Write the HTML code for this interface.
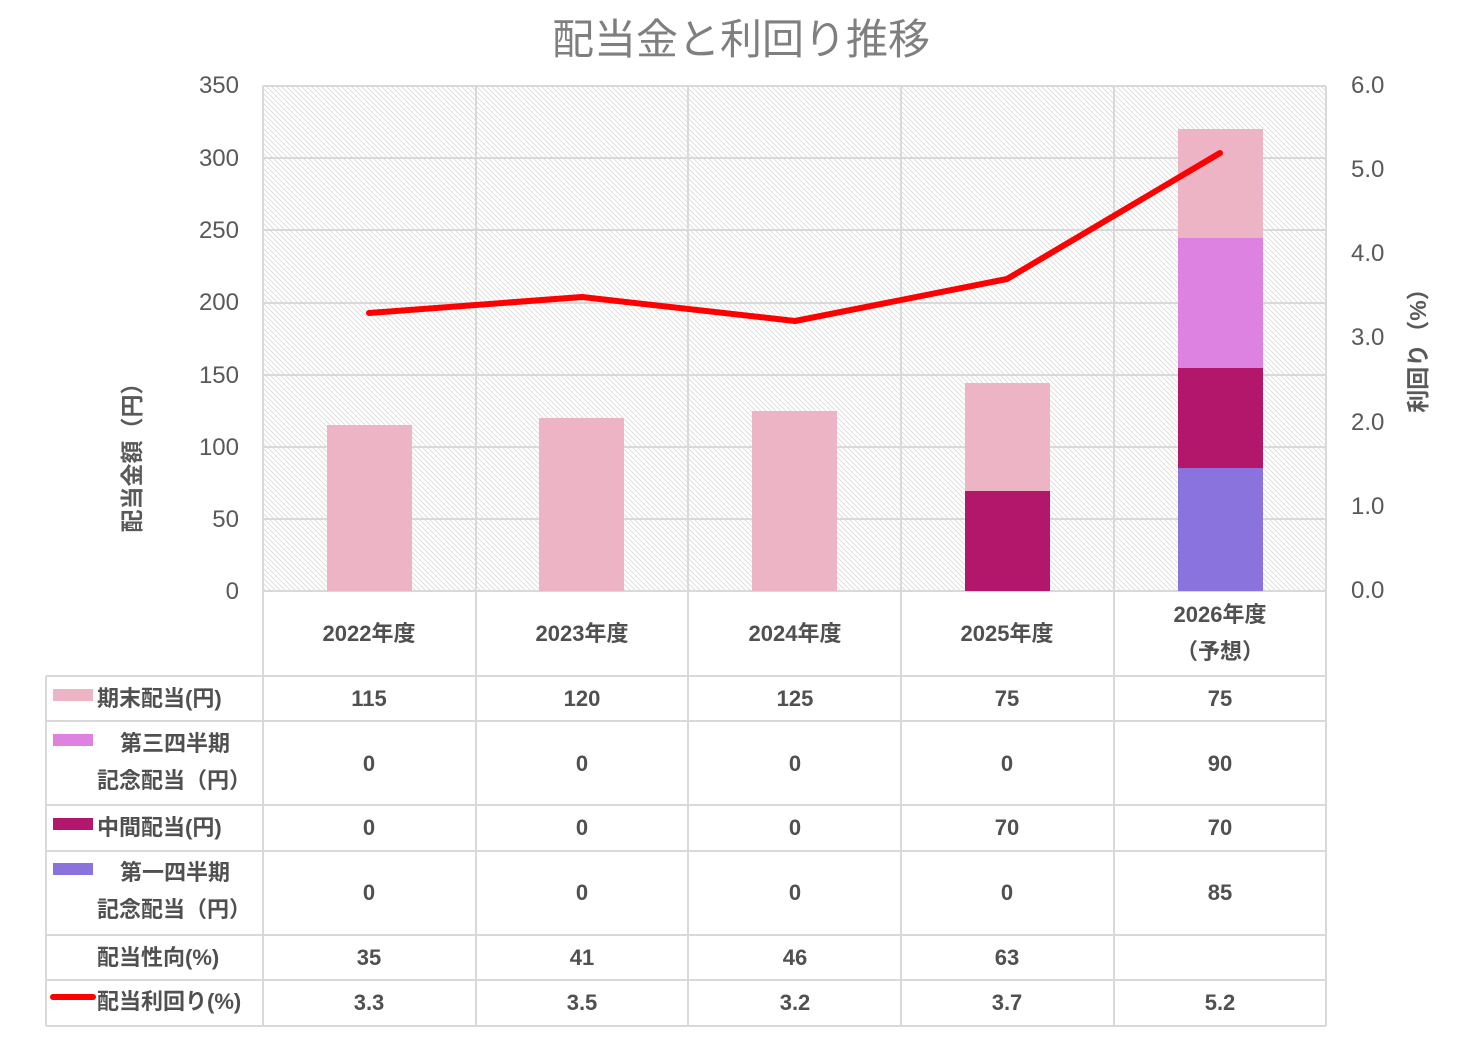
<!DOCTYPE html>
<html><head><meta charset="utf-8"><style>
html,body{margin:0;padding:0;background:#fff;}
svg{display:block;font-family:"Liberation Sans","Noto Sans CJK JP",sans-serif;}
.ax{fill:#595959;font-size:24px;}
.tb{fill:#505050;font-size:22px;font-weight:bold;}
</style></head><body>
<svg width="1476" height="1040" viewBox="0 0 1476 1040" xmlns="http://www.w3.org/2000/svg">
<defs>
<pattern id="h" width="5" height="5" patternUnits="userSpaceOnUse">
<rect width="5" height="5" fill="#fff"/>
<path d="M-1,-1 L6,6 M-1,4 L1,6 M4,-1 L6,1" stroke="#dadada" stroke-width="0.8"/>
</pattern>
</defs>
<text x="741" y="54" text-anchor="middle" fill="#7f7f7f" font-size="42">配当金と利回り推移</text>
<rect x="263" y="86" width="1063" height="505" fill="url(#h)"/>
<g stroke="#d9d9d9" stroke-width="2">
<line x1="263" y1="86" x2="1326" y2="86"/>
<line x1="263" y1="158" x2="1326" y2="158"/>
<line x1="263" y1="230" x2="1326" y2="230"/>
<line x1="263" y1="303" x2="1326" y2="303"/>
<line x1="263" y1="375" x2="1326" y2="375"/>
<line x1="263" y1="447" x2="1326" y2="447"/>
<line x1="263" y1="519" x2="1326" y2="519"/>
<line x1="263" y1="86" x2="263" y2="1026"/>
<line x1="476" y1="86" x2="476" y2="1026"/>
<line x1="688" y1="86" x2="688" y2="1026"/>
<line x1="901" y1="86" x2="901" y2="1026"/>
<line x1="1114" y1="86" x2="1114" y2="1026"/>
<line x1="1326" y1="86" x2="1326" y2="1026"/>
<line x1="263" y1="591" x2="1326" y2="591"/>
<line x1="46" y1="676" x2="1326" y2="676"/>
<line x1="46" y1="721" x2="1326" y2="721"/>
<line x1="46" y1="805" x2="1326" y2="805"/>
<line x1="46" y1="851" x2="1326" y2="851"/>
<line x1="46" y1="935" x2="1326" y2="935"/>
<line x1="46" y1="980" x2="1326" y2="980"/>
<line x1="46" y1="1026" x2="1326" y2="1026"/>
<line x1="46" y1="676" x2="46" y2="1026"/>
</g>
<rect x="327" y="425" width="85" height="166" fill="#ECB4C4"/>
<rect x="539" y="418" width="85" height="173" fill="#ECB4C4"/>
<rect x="752" y="411" width="85" height="180" fill="#ECB4C4"/>
<rect x="965" y="491" width="85" height="100" fill="#B3176B"/>
<rect x="965" y="383" width="85" height="108" fill="#ECB4C4"/>
<rect x="1178" y="468" width="85" height="123" fill="#8B73DD"/>
<rect x="1178" y="368" width="85" height="100" fill="#B3176B"/>
<rect x="1178" y="238" width="85" height="130" fill="#DD82E0"/>
<rect x="1178" y="129" width="85" height="109" fill="#ECB4C4"/>
<polyline points="369,313 582,297 795,321 1007,279 1220,153" fill="none" stroke="#FF0000" stroke-width="6" stroke-linecap="round" stroke-linejoin="round"/>
<g class="ax" text-anchor="end">
<text x="239" y="93">350</text><text x="239" y="166">300</text><text x="239" y="238">250</text>
<text x="239" y="310">200</text><text x="239" y="383">150</text><text x="239" y="455">100</text>
<text x="239" y="527">50</text><text x="239" y="599">0</text>
</g>
<g class="ax" text-anchor="start">
<text x="1351" y="93">6.0</text><text x="1351" y="177">5.0</text><text x="1351" y="261">4.0</text>
<text x="1351" y="345">3.0</text><text x="1351" y="430">2.0</text><text x="1351" y="514">1.0</text>
<text x="1351" y="598">0.0</text>
</g>
<text transform="translate(140,452) rotate(-90)" text-anchor="middle" fill="#595959" font-size="23" font-weight="bold">配当金額（円）</text>
<text transform="translate(1426,345) rotate(-90)" text-anchor="middle" fill="#595959" font-size="23" font-weight="bold">利回り（%）</text>
<g class="tb" text-anchor="middle">
<text x="369" y="641">2022年度</text><text x="582" y="641">2023年度</text><text x="795" y="641">2024年度</text>
<text x="1007" y="641">2025年度</text><text x="1220" y="622">2026年度</text><text x="1220" y="659">（予想）</text>
<text x="369" y="706">115</text><text x="582" y="706">120</text><text x="795" y="706">125</text><text x="1007" y="706">75</text><text x="1220" y="706">75</text>
<text x="369" y="771">0</text><text x="582" y="771">0</text><text x="795" y="771">0</text><text x="1007" y="771">0</text><text x="1220" y="771">90</text>
<text x="369" y="835">0</text><text x="582" y="835">0</text><text x="795" y="835">0</text><text x="1007" y="835">70</text><text x="1220" y="835">70</text>
<text x="369" y="900">0</text><text x="582" y="900">0</text><text x="795" y="900">0</text><text x="1007" y="900">0</text><text x="1220" y="900">85</text>
<text x="369" y="965">35</text><text x="582" y="965">41</text><text x="795" y="965">46</text><text x="1007" y="965">63</text>
<text x="369" y="1010">3.3</text><text x="582" y="1010">3.5</text><text x="795" y="1010">3.2</text><text x="1007" y="1010">3.7</text><text x="1220" y="1010">5.2</text>
</g>
<rect x="53" y="689" width="40" height="12" fill="#ECB4C4"/>
<rect x="53" y="734" width="40" height="12" fill="#DD82E0"/>
<rect x="53" y="818" width="40" height="12" fill="#B3176B"/>
<rect x="53" y="863" width="40" height="12" fill="#8B73DD"/>
<line x1="53" y1="997" x2="93" y2="997" stroke="#FF0000" stroke-width="6" stroke-linecap="round"/>
<g class="tb">
<text x="97" y="706">期末配当(円)</text>
<text x="120" y="751">第三四半期</text>
<text x="97" y="788">記念配当（円）</text>
<text x="97" y="835">中間配当(円)</text>
<text x="120" y="880">第一四半期</text>
<text x="97" y="917">記念配当（円）</text>
<text x="97" y="965">配当性向(%)</text>
<text x="97" y="1009">配当利回り(%)</text>
</g>
</svg>
</body></html>
